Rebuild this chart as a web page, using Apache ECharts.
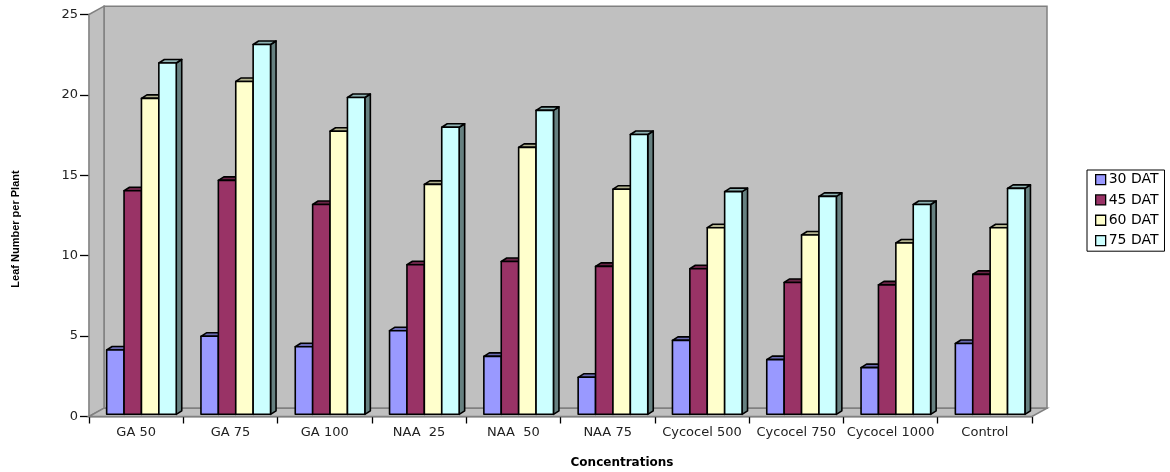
<!DOCTYPE html>
<html>
<head>
<meta charset="utf-8">
<style>html,body{margin:0;padding:0;background:#fff}#c{width:1170px;height:472px}</style>
<script src="https://cdn.jsdelivr.net/npm/echarts@6/dist/echarts.min.js"></script>
</head>
<body>
<div id="c"></div>
<script>
const categories = ["GA 50","GA 75","GA 100","NAA  25","NAA  50","NAA 75","Cycocel 500","Cycocel 750","Cycocel 1000","Control"];
const dat30 = [4.0,4.85,4.2,5.2,3.6,2.3,4.6,3.4,2.9,4.4];
const dat45 = [13.9,14.55,13.05,9.3,9.5,9.2,9.05,8.2,8.05,8.7];
const dat60 = [19.65,20.7,17.6,14.3,16.6,14.0,11.6,11.15,10.65,11.6];
const dat75 = [21.85,23.0,19.7,17.85,18.9,17.4,13.85,13.55,13.05,14.05];
const yTicks = [0,5,10,15,20,25];
const font = '"DejaVu Sans", sans-serif';
const narrow = '"Liberation Sans", Arial, sans-serif';

const seriesDefs = [
  {name:'30 DAT', values:dat30, front:'#9999FF', top:'#6B6BB3', side:'#4D4D80'},
  {name:'45 DAT', values:dat45, front:'#993366', top:'#6B2447', side:'#4D1A33'},
  {name:'60 DAT', values:dat60, front:'#FFFFCC', top:'#B3B38F', side:'#808066'},
  {name:'75 DAT', values:dat75, front:'#CCFFFF', top:'#8FB3B3', side:'#668080'}
];
const BAR = 0.1845, SHIFT = 5.3, DX = 5.5, DY = 3.5, BASE = 2.2;

function poly(points, fill){
  return {type:'polygon', shape:{points}, style:{fill, stroke:'#000', lineWidth:1.6, lineJoin:'round'}};
}
function barRenderer(idx, def){
  return function(params, api){
    const p = api.coord([api.value(0), api.value(1)]);
    const z = api.coord([api.value(0), 0]);
    const cw = api.size([1,0])[0];
    const w = cw*BAR;
    const x0 = z[0] + SHIFT - 2*w + idx*w;
    const x1 = x0 + w;
    const yt = p[1] - BASE, yb = z[1] - BASE;
    return {type:'group', children:[
      poly([[x1,yt],[x1+DX,yt-DY],[x1+DX,yb-DY],[x1,yb]], def.side),
      poly([[x0,yt],[x0+DX,yt-DY],[x1+DX,yt-DY],[x1,yt]], def.top),
      poly([[x0,yt],[x1,yt],[x1,yb],[x0,yb]], def.front)
    ]};
  };
}
function wallRenderer(params, api){
  const cs = params.coordSys;
  const l = cs.x, r = cs.x+cs.width, t = cs.y, b = cs.y+cs.height;
  const ox = 15, oy = 8.3;
  const st = {fill:'#C0C0C0', stroke:'#808080', lineWidth:1.5};
  return {type:'group', children:[
    {type:'polygon', shape:{points:[[l+ox,t-oy],[r+ox,t-oy],[r+ox,b-oy],[l+ox,b-oy]]}, style:st},
    {type:'polygon', shape:{points:[[l,t],[l+ox,t-oy],[l+ox,b-oy],[l,b]]}, style:st},
    {type:'polygon', shape:{points:[[l,b],[l+ox,b-oy],[r+ox,b-oy],[r,b]]}, style:st}
  ]};
}

const chart = echarts.init(document.getElementById('c'), null, {renderer:'canvas'});
chart.setOption({
  animation:false,
  backgroundColor:'#fff',
  grid:{left:89, right:138, top:14.5, bottom:55.5, containLabel:false, outerBoundsMode:'none'},
  legend:{
    orient:'vertical', left:1087, top:170,
    backgroundColor:'#fff', borderColor:'#000', borderWidth:1,
    padding:[2,6,3,8], itemGap:5, itemWidth:10, itemHeight:10,
    textStyle:{fontFamily:font, fontSize:14, color:'#000', padding:[0,0,0,-2], lineHeight:15.3},
    data:seriesDefs.map(d=>({name:d.name, icon:'rect', itemStyle:{color:d.front, borderColor:'#000', borderWidth:1.3}}))
  },
  xAxis:{
    type:'category', data:categories,
    name:'Concentrations', nameLocation:'middle', nameGap:40,
    nameTextStyle:{fontFamily:font, fontSize:12, fontWeight:'bold', color:'#000', padding:[0,0,0,123]},
    axisLine:{lineStyle:{color:'#000', width:1.3}},
    axisTick:{show:true, length:7, lineStyle:{color:'#000', width:1.3}},
    axisLabel:{fontFamily:font, fontSize:13, color:'#222', margin:10, interval:0},
    splitLine:{show:false}
  },
  yAxis:{
    type:'value', min:0, max:25, interval:5,
    name:'Leaf Number per Plant', nameLocation:'middle', nameGap:68, nameRotate:90,
    nameTextStyle:{fontFamily:narrow, fontSize:11, fontWeight:'bold', color:'#000', padding:[0,27,0,0]},
    axisLine:{show:true, lineStyle:{color:'#000', width:1.3}},
    axisTick:{show:true, length:9, lineStyle:{color:'#000', width:1.3}},
    axisLabel:{fontFamily:font, fontSize:13, color:'#222', margin:11,
      formatter:v=>yTicks.includes(v)?String(v):''},
    splitLine:{show:false}
  },
  series:[
    {type:'custom', name:'walls', silent:true, z:1, renderItem:wallRenderer, data:[[0,0]], clip:false,
     encode:{x:0,y:1}},
    ...seriesDefs.map((d,i)=>({
      type:'custom', name:d.name, z:3+i, clip:false,
      itemStyle:{color:d.front, borderColor:'#000', borderWidth:1.2},
      renderItem:barRenderer(i,d),
      encode:{x:0,y:1},
      data:d.values.map((v,k)=>[k,v])
    }))
  ]
});
</script>
</body>
</html>
